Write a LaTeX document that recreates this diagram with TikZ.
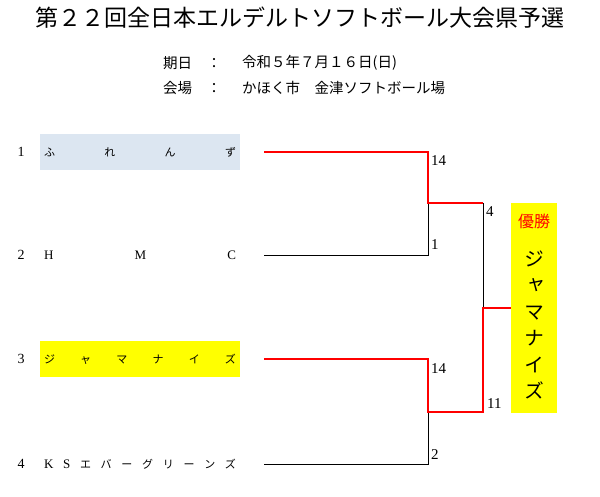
\documentclass[tikz,border=0pt]{standalone}
\usepackage{fontspec}
\setmainfont{Liberation Serif}
\newfontfamily\cjk{Noto Sans CJK JP}
\newfontfamily\cjkv[RawFeature=+vert]{Noto Sans CJK JP}
\usetikzlibrary{positioning,calc}
\definecolor{paleblue}{RGB}{220,230,241}
\definecolor{winred}{RGB}{255,0,0}
\definecolor{hilite}{RGB}{255,255,0}
\newcommand\latin[1]{{\rmfamily\fontsize{13}{15}\selectfont #1}}
\tikzset{
  namebox/.style={fill=#1,minimum height=36pt,inner xsep=4pt,inner ysep=0pt,
    font=\cjk\fontsize{11}{13}\selectfont},
  namebox/.default=white,
  seed/.style={inner sep=0pt,font=\fontsize{14}{16}\selectfont},
  score/.style={anchor=west,inner sep=0pt,font=\fontsize{15}{17}\selectfont},
  info/.style={inner sep=0pt,font=\cjk\fontsize{14.5}{16}\selectfont},
  lost/.style={draw=black,line width=0.9pt},
  won/.style={draw=winred,line width=2.8pt},
}

\begin{document}
\begin{tikzpicture}[x=1pt,y=-1pt]
  \useasboundingbox (0,0) rectangle (600,497);
  % heading
  \node[font=\cjk\fontsize{23}{26}\selectfont] (title) at (300,18) {第２２回全日本エルデルトソフトボール大会県予選};
  \node[info,anchor=west] (datelab) at (163,63) {期日};
  \node[info] (datecol) at (214,63) {：};
  \node[info,anchor=west] (date) at (242,63) {令和５年７月１６日(日)};
  \node[info,anchor=west] (venuelab) at (163,88) {会場};
  \node[info] (venuecol) at (214,88) {：};
  \node[info,anchor=west] (venue) at (242,88) {かほく市　金津ソフトボール場};
  % teams
  \foreach \name/\shade/\ypos [count=\i] in {
      {ふ\hfill れ\hfill ん\hfill ず}/paleblue/152,
      {\latin{H}\hfill\latin{M}\hfill\latin{C}}/white/255,
      {ジ\hfill ャ\hfill マ\hfill ナ\hfill イ\hfill ズ}/hilite/359,
      {\latin{K}\hfill\latin{S}\hfill エ\hfill バ\hfill ー\hfill グ\hfill リ\hfill ー\hfill ン\hfill ズ}/white/464}{
    \node[namebox=\shade] (b\i) at (140,\ypos) {\makebox[192pt]{\name}};
    \node[seed,left=15pt of b\i] (n\i) {\i};
    \coordinate (s\i) at ([xshift=24pt]b\i.east);
  }
  % bracket
  \coordinate (q1) at (428,203);
  \coordinate (q2) at (428,412);
  \coordinate (f) at (483,308);
  \node[fill=hilite,minimum width=46pt,minimum height=210pt,inner sep=0pt] (champ) at (534,308) {};
  \draw[lost] (s2) -| (q1);
  \draw[lost] (s4) -| (q2);
  \draw[lost] (q1 -| f) -- (f);
  \draw[won] (s1) -| (q1) -- (q1 -| f);
  \draw[won] (s3) -| (q2) -- (q2 -| f) -- (f) -- (champ.west);
  % scores
  \node[score] (sc1) at (431,161) {14};
  \node[score] (sc2) at (431,245) {1};
  \node[score] (sc3) at (431,369) {14};
  \node[score] (sc4) at (431,455) {2};
  \node[score] (sc5) at (486,212) {4};
  \node[score] (sc6) at (487,404) {11};
  % winner
  \node[text=winred,font=\cjk\fontsize{16}{18}\selectfont] (yusho) at (534,221) {優勝};
  \node[align=center,inner sep=0pt,font=\cjkv\fontsize{20}{26.4}\selectfont] (champname) at (534,325) {ジ\\ャ\\マ\\ナ\\イ\\ズ};
\end{tikzpicture}
\end{document}
